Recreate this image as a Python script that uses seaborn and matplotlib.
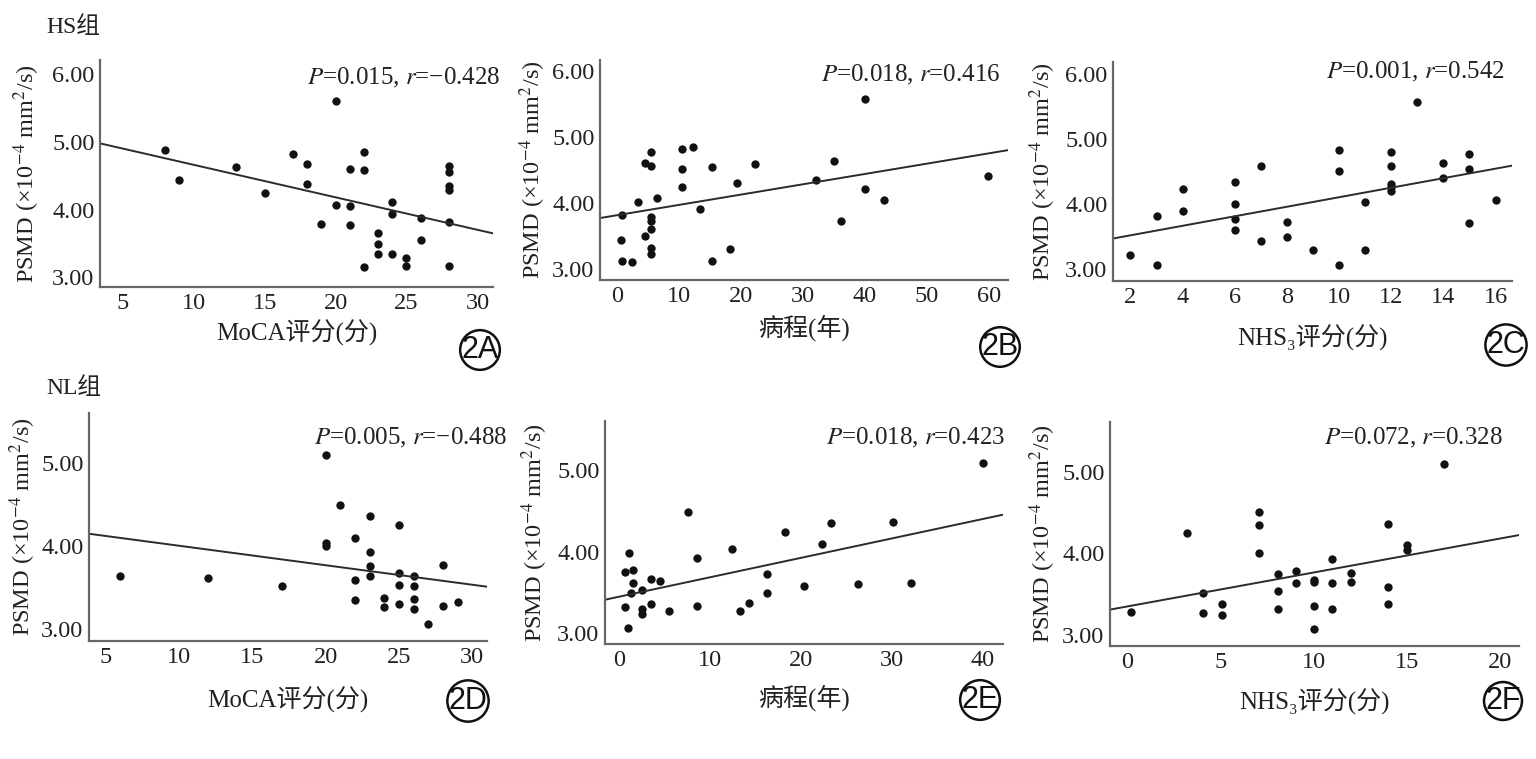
import numpy as np
import matplotlib
matplotlib.use("Agg")
import matplotlib.pyplot as plt
import seaborn as sns

# HS group (top row)
hs_moca_x = [8, 9, 13, 15, 17, 18, 18, 20, 19, 20, 21, 21, 21, 22, 22, 22,
             23, 23, 23, 24, 24, 24, 25, 25, 26, 26, 28, 28, 28, 28, 28, 28]
hs_moca_y = [4.87, 4.44, 4.62, 4.25, 4.81, 4.67, 4.38, 5.59, 3.78, 4.07, 4.59, 4.05,
             3.77, 4.84, 4.58, 3.15, 3.66, 3.49, 3.34, 4.11, 3.94, 3.35, 3.28, 3.17,
             3.87, 3.55, 4.64, 4.55, 4.35, 4.28, 3.82, 3.17]

hs_dur_x = [0.8, 0.6, 0.7, 2.4, 3.4, 4.4, 4.4, 5.4, 5.4, 5.4, 5.4, 5.4, 5.4, 5.4, 6.4, 10.4,
            10.4, 10.4, 12.3, 13.3, 15.3, 15.3, 18.2, 19.3, 22.2, 32.1, 35.0, 36.1, 40.0,
            40.0, 43.0, 59.8]
hs_dur_y = [3.82, 3.43, 3.12, 3.10, 4.01, 4.60, 3.50, 4.77, 4.55, 3.78, 3.73, 3.60, 3.31,
            3.23, 4.07, 4.81, 4.51, 4.24, 4.84, 3.90, 4.54, 3.12, 3.30, 4.30, 4.58, 4.34,
            4.63, 3.73, 5.57, 4.20, 4.04, 4.40]

hs_nhs_x = [2, 3, 3, 4, 4, 6, 6, 6, 6, 7, 7, 8, 8, 9, 10, 10, 10, 11, 11, 12, 12, 12, 12, 12,
            13, 14, 14, 15, 15, 15, 16]
hs_nhs_y = [3.21, 3.81, 3.06, 4.23, 3.88, 4.33, 4.00, 3.76, 3.59, 4.58, 3.42, 3.72, 3.49,
            3.28, 4.83, 4.51, 3.05, 4.02, 3.28, 4.80, 4.58, 4.30, 4.26, 4.19, 5.56, 4.63,
            4.39, 4.76, 4.54, 3.71, 4.06]

# NL group (bottom row)
nl_moca_x = [6, 12, 17, 20, 20, 20, 21, 22, 22, 22, 23, 23, 23, 23, 24, 24, 25, 25, 25, 25,
             26, 26, 26, 26, 27, 28, 28, 29]
nl_moca_y = [3.63, 3.61, 3.51, 5.09, 4.03, 3.99, 4.49, 4.09, 3.58, 3.34, 4.36, 3.92, 3.75,
             3.63, 3.37, 3.26, 4.25, 3.67, 3.53, 3.30, 3.63, 3.51, 3.36, 3.23, 3.06, 3.77,
             3.27, 3.32]

nl_dur_x = [0.6, 0.6, 1.0, 0.9, 1.3, 1.5, 1.5, 2.5, 2.5, 2.5, 3.5, 3.5, 4.5, 5.5, 7.5, 8.5,
            8.5, 12.4, 13.3, 14.3, 16.3, 16.3, 18.3, 20.3, 22.3, 23.3, 26.3, 30.2, 32.2, 40.1]
nl_dur_y = [3.75, 3.32, 3.99, 3.06, 3.49, 3.78, 3.62, 3.53, 3.30, 3.24, 3.67, 3.36, 3.64,
            3.27, 4.49, 3.92, 3.34, 4.03, 3.28, 3.37, 3.73, 3.50, 4.24, 3.58, 4.09, 4.35,
            3.61, 4.36, 3.62, 5.08]

nl_nhs_x = [0.2, 3.2, 4.1, 4.1, 5.1, 5.1, 7.1, 7.1, 7.1, 8.1, 8.1, 8.1, 9.05, 9.05, 10, 10,
            10, 10, 11, 11, 11, 12, 12, 14, 14, 14, 15, 15, 17]
nl_nhs_y = [3.28, 4.25, 3.51, 3.27, 3.37, 3.24, 4.50, 4.35, 4.00, 3.74, 3.53, 3.32, 3.78,
            3.63, 3.67, 3.64, 3.35, 3.07, 3.93, 3.63, 3.31, 3.76, 3.65, 4.36, 3.59, 3.37,
            4.10, 4.04, 5.09]

stats = ["$\\it{P}$=0.015, $\\it{r}$=\u22120.428", "$\\it{P}$=0.018, $\\it{r}$=0.416",
         "$\\it{P}$=0.001, $\\it{r}$=0.542", "$\\it{P}$=0.005, $\\it{r}$=\u22120.488",
         "$\\it{P}$=0.018, $\\it{r}$=0.423", "$\\it{P}$=0.072, $\\it{r}$=0.328"]
xlabels = ["MoCA评分(分)", "病程(年)", "NHS\u2083评分(分)"] * 2
panel_tags = ["2A", "2B", "2C", "2D", "2E", "2F"]
group_names = ["HS组", "NL组"]
ylabel = "PSMD (\u00d710$^{\u22124}$ mm$^{2}$/s)"

sns.set_style("white")
plt.rcParams['font.family'] = ['Liberation Serif', 'DejaVu Serif', 'Noto Sans CJK SC']
plt.rcParams['mathtext.fontset'] = 'stix'
plt.rcParams['axes.unicode_minus'] = True

W, H = 1536, 759
fig = plt.figure(figsize=(W / 100, H / 100), dpi=100)


def px_rect(l, t, r, b):
    return [l / W, 1 - b / H, (r - l) / W, (b - t) / H]


# pixel boxes (left, top, right, bottom) of each panel
boxes = [(100, 60, 493, 287), (600, 60, 1008, 280), (1113, 62, 1512, 281),
         (89, 413, 487, 641), (605, 421, 1003, 644), (1110, 422, 1519, 646)]
xlims = [(3.4, 31.1), (-2.8, 63.1), (1.33, 16.63), (3.86, 31.0), (-1.6, 42.3), (-0.9, 21.0)]
ylims = [(2.86, 6.2), (2.83, 6.16), (2.81, 6.18), (2.85, 5.6), (2.87, 5.6), (2.86, 5.61)]
xticks = [[5, 10, 15, 20, 25, 30], [0, 10, 20, 30, 40, 50, 60],
          [2, 4, 6, 8, 10, 12, 14, 16], [5, 10, 15, 20, 25, 30],
          [0, 10, 20, 30, 40], [0, 5, 10, 15, 20]]
yticks = [[3, 4, 5, 6]] * 3 + [[3, 4, 5]] * 3
stat_pos = [(500, 78), (1000, 75), (1505, 72), (507, 438), (1005, 438), (1503, 438)]
tag_pos = [(480, 350), (1000, 347), (1506, 345), (468, 701), (980, 700), (1503, 701)]
xlabel_y = [333, 328, 338, 700, 698, 702]
ylabel_x = [27, 533, 1043, 23, 535, 1043]

data = [(hs_moca_x, hs_moca_y), (hs_dur_x, hs_dur_y), (hs_nhs_x, hs_nhs_y),
        (nl_moca_x, nl_moca_y), (nl_dur_x, nl_dur_y), (nl_nhs_x, nl_nhs_y)]

for i, (x, y) in enumerate(data):
    l, t, r, b = boxes[i]
    ax = fig.add_axes(px_rect(l, t, r, b))
    ax.set_xlim(*xlims[i])
    ax.set_ylim(*ylims[i])
    sns.regplot(x=np.array(x), y=np.array(y), ax=ax, ci=None, truncate=False,
                scatter_kws=dict(s=36, color='#111111', linewidths=0, alpha=1),
                line_kws=dict(color='#2b2b2b', lw=1.4))
    ax.set_xlim(*xlims[i])
    ax.set_ylim(*ylims[i])
    ax.set_xticks(xticks[i])
    ax.set_yticks(yticks[i])
    ax.set_yticklabels([f"{v:.2f}" for v in yticks[i]])
    ax.tick_params(length=0, labelsize=17.5, pad=4, colors='#222222')
    for side in ['top', 'right']:
        ax.spines[side].set_visible(False)
    for side in ['left', 'bottom']:
        ax.spines[side].set_color('#666666')
        ax.spines[side].set_linewidth(1.6)
    ax.set_xlabel("")
    ax.set_ylabel("")

    fig.text((l + r) / 2 / W, 1 - xlabel_y[i] / H, xlabels[i], ha='center', va='center',
             fontsize=18, color='#222222')
    fig.text(ylabel_x[i] / W, 1 - ((t + b) / 2) / H, ylabel, rotation=90, ha='center',
             va='center', fontsize=17.5, color='#222222')
    sx, sy = stat_pos[i]
    fig.text(sx / W, 1 - sy / H, stats[i], ha='right', va='center', fontsize=18,
             color='#222222')
    tx, ty = tag_pos[i]
    fig.text(tx / W, 1 - ty / H, panel_tags[i], ha='center', va='center', fontsize=22,
             family='Liberation Sans', color='#111111',
             bbox=dict(boxstyle='circle,pad=0.04', fc='white', ec='#111111', lw=1.8))

fig.text(46 / W, 1 - 27 / H, group_names[0], ha='left', va='center', fontsize=17, color='#222222')
fig.text(46 / W, 1 - 388 / H, group_names[1], ha='left', va='center', fontsize=17, color='#222222')

fig.savefig("out.png", dpi=100, facecolor='white')
